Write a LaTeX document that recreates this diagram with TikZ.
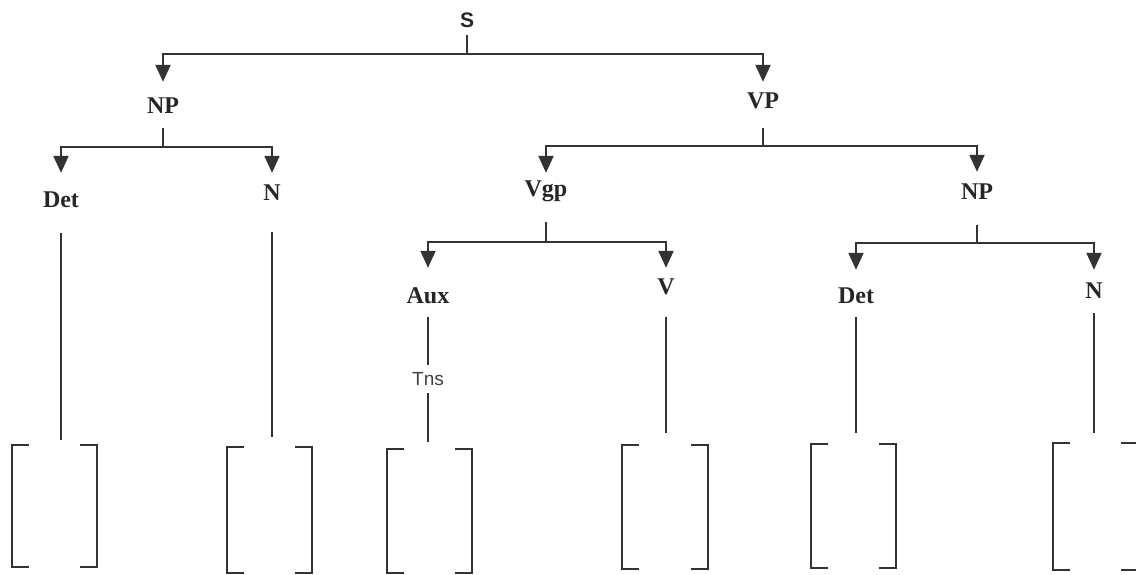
\documentclass[tikz,border=0pt]{standalone}
\usepackage{fontspec}
\setmainfont{Liberation Serif}
\setsansfont{Liberation Sans}
\usetikzlibrary{arrows.meta}
\begin{document}
\begin{tikzpicture}[x=1pt,y=-1pt,
  lbl/.style={font=\bfseries\fontsize{24}{24}\selectfont, text=black!85, inner sep=0pt, text height=15pt, text depth=0pt},
  slbl/.style={lbl, font=\sffamily\bfseries\fontsize{21}{21}\selectfont},
  tlbl/.style={font=\sffamily\fontsize{19}{19}\selectfont, text=black!75, inner xsep=0pt, inner ysep=6pt, text height=14pt, text depth=0pt},
  conn/.style={draw=black!80, line width=2.2pt},
  arr/.style={conn, -{Triangle[length=17pt,width=15pt]}},
  brk/.style={draw=black!80, line width=2.2pt}]
\useasboundingbox (0,0) rectangle (1136,574);
\clip (0,0) rectangle (1136,574);

% labels
\node[slbl] (S) at (467,20) {S};
\node[lbl] (NP1) at (163,106) {NP};
\node[lbl] (VP) at (763,101) {VP};
\node[lbl] (Det1) at (61,200) {Det};
\node[lbl] (N1) at (272,193) {N};
\node[lbl] (Vgp) at (546,189) {Vgp};
\node[lbl] (NP2) at (977,192) {NP};
\node[lbl] (Aux) at (428,296) {Aux};
\node[lbl] (V) at (666,287) {V};
\node[lbl] (Det2) at (856,296) {Det};
\node[lbl] (N2) at (1094,291) {N};
\node[tlbl] (Tns) at (428,378) {Tns};

% junctions
\coordinate (jS) at (467,54);
\coordinate (jNP1) at (163,147);
\coordinate (jVP) at (763,146);
\coordinate (jVgp) at (546,242);
\coordinate (jNP2) at (977,243);

% ends of leaf lines
\coordinate (eDet1) at (61,440);
\coordinate (eN1) at (272,437);
\coordinate (eAux) at (428,442);
\coordinate (eV) at (666,433);
\coordinate (eDet2) at (856,433);
\coordinate (eN2) at (1094,433);

% S
\draw[conn, shorten <=7.5pt] (S) -- (jS);
\draw[arr, shorten >=16.5pt] (jS) -| (NP1);
\draw[arr, shorten >=11.5pt] (jS) -| (VP);
% NP1
\draw[conn, shorten <=14.5pt] (NP1) -- (jNP1);
\draw[arr, shorten >=19.5pt] (jNP1) -| (Det1);
\draw[arr, shorten >=12.5pt] (jNP1) -| (N1);
% VP
\draw[conn, shorten <=19.5pt] (VP) -- (jVP);
\draw[arr, shorten >=8.5pt] (jVP) -| (Vgp);
\draw[arr, shorten >=12.5pt] (jVP) -| (NP2);
% Vgp
\draw[conn, shorten <=25.5pt] (Vgp) -- (jVgp);
\draw[arr, shorten >=20.5pt] (jVgp) -| (Aux);
\draw[arr, shorten >=11.5pt] (jVgp) -| (V);
% NP2
\draw[conn, shorten <=25.5pt] (NP2) -- (jNP2);
\draw[arr, shorten >=18.5pt] (jNP2) -| (Det2);
\draw[arr, shorten >=13.5pt] (jNP2) -| (N2);

% leaf lines
\draw[conn, shorten <=25.5pt] (Det1) -- (eDet1);
\draw[conn, shorten <=31.5pt] (N1) -- (eN1);
\draw[conn, shorten <=13.5pt] (Aux) -- (Tns);
\draw[conn, shorten <=2pt] (Tns) -- (eAux);
\draw[conn, shorten <=22.5pt] (V) -- (eV);
\draw[conn, shorten <=13.5pt] (Det2) -- (eDet2);
\draw[conn, shorten <=14.5pt] (N2) -- (eN2);

% brackets
\foreach \l/\r/\t/\b in {12/97/445/567, 227/312/447/573, 387/472/449/573, 622/708/445/569, 811/896/444/568, 1053/1138/443/570}{
  \draw[brk] (\l+17,\t) -- (\l,\t) -- (\l,\b) -- (\l+17,\b);
  \draw[brk] (\r-17,\t) -- (\r,\t) -- (\r,\b) -- (\r-17,\b);
}
\end{tikzpicture}
\end{document}
